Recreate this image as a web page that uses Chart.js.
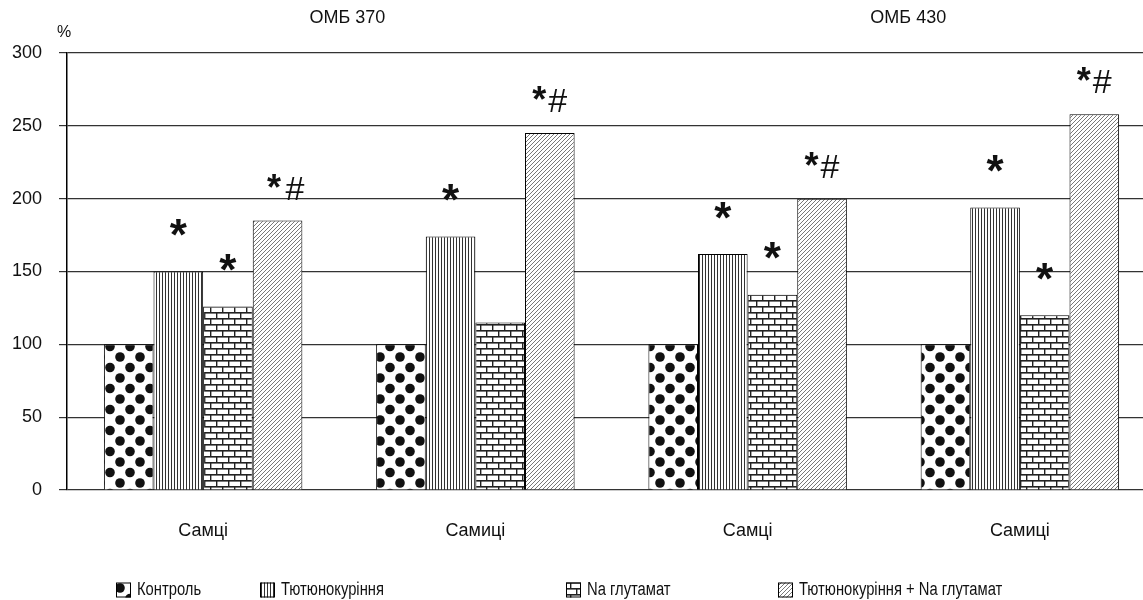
<!DOCTYPE html>
<html>
<head>
<meta charset="utf-8">
<script src="https://cdn.jsdelivr.net/npm/chart.js@4"></script>
<style>
  html, body { margin: 0; padding: 0; background: #fff; overflow: hidden; }
  #chart { display: block; }
</style>
</head>
<body>
<canvas id="chart" width="1158" height="600"></canvas>
<script>
const categories = ['Самці', 'Самиці', 'Самці', 'Самиці'];
const seriesNames = ['Контроль', 'Тютюнокуріння', 'Na глутамат', 'Тютюнокуріння + Na глутамат'];
const control = [100, 100, 100, 100];
const smoking = [150, 174, 162, 194];
const glutamate = [126, 115, 134, 120];
const combined = [185, 245, 200, 258];
const smokingMarks = ['*', '*', '*', '*'];
const glutamateMarks = ['*', '', '*', '*'];
const combinedMarks = ['*#', '*#', '*#', '*#'];
const groupTitles = ['ОМБ 370', 'ОМБ 430'];
const yMax = 300;
const yStep = 50;

const FONT = "'Liberation Sans', Arial, sans-serif";

// fill patterns
function makeTile(w, h, draw) {
  const c = document.createElement('canvas');
  c.width = w; c.height = h;
  const g = c.getContext('2d');
  g.fillStyle = '#fff';
  g.fillRect(0, 0, w, h);
  draw(g);
  return document.createElement('canvas').getContext('2d').createPattern(c, 'repeat');
}

const dots = makeTile(20, 21, g => {
  g.fillStyle = '#111';
  [[0, 0], [20, 0], [0, 21], [20, 21], [10, 10.5]].forEach(p => {
    g.beginPath();
    g.arc(p[0], p[1], 4.8, 0, Math.PI * 2);
    g.fill();
  });
});

const stripes = makeTile(3, 3, g => {
  g.fillStyle = '#333';
  g.fillRect(0, 0, 1, 3);
});

const bricks = makeTile(12, 12, g => {
  g.fillStyle = '#222';
  g.fillRect(0, 0, 12, 1.6);
  g.fillRect(0, 6, 12, 1.6);
  g.fillRect(0, 0, 1.4, 6);
  g.fillRect(6, 6, 1.4, 6);
});

const hatch = makeTile(4, 4, g => {
  g.strokeStyle = '#555';
  g.lineWidth = 0.8;
  g.beginPath();
  g.moveTo(0, 4); g.lineTo(4, 0);
  g.moveTo(-1, 1); g.lineTo(1, -1);
  g.moveTo(3, 5); g.lineTo(5, 3);
  g.stroke();
});

const fills = [dots, stripes, bricks, hatch];
const marks = [null, smokingMarks, glutamateMarks, combinedMarks];

function centerY(ctx, ch, cy) {
  const t = ctx.measureText(ch);
  return cy + (t.actualBoundingBoxAscent - t.actualBoundingBoxDescent) / 2;
}

const extras = {
  id: 'extras',
  afterDatasetsDraw(chart) {
    const ctx = chart.ctx;
    const area = chart.chartArea;
    const xs = chart.scales.x;
    ctx.save();
    ctx.fillStyle = '#111';
    ctx.textBaseline = 'alphabetic';

    // significance marks above bars
    marks.forEach((list, di) => {
      if (!list) return;
      const meta = chart.getDatasetMeta(di);
      meta.data.forEach((bar, i) => {
        const m = list[i];
        if (!m) return;
        if (m === '*') {
          ctx.font = 'bold 44px ' + FONT;
          ctx.textAlign = 'center';
          ctx.fillText('*', bar.x, centerY(ctx, '*', bar.y - 44));
        } else {
          ctx.font = 'bold 36px ' + FONT;
          const ts = ctx.measureText('*');
          const sw = ts.actualBoundingBoxRight + ts.actualBoundingBoxLeft;
          const sy = centerY(ctx, '*', bar.y - 40);
          ctx.font = '34px ' + FONT;
          const th = ctx.measureText('#');
          const hw = th.actualBoundingBoxRight + th.actualBoundingBoxLeft;
          const gap = 2;
          const x0 = bar.x - (sw + gap + hw) / 2;
          ctx.textAlign = 'left';
          ctx.font = 'bold 36px ' + FONT;
          ctx.fillText('*', x0 + ts.actualBoundingBoxLeft, sy);
          ctx.font = '34px ' + FONT;
          ctx.fillText('#', x0 + sw + gap + th.actualBoundingBoxLeft, bar.y - 21);
        }
      });
    });

    // group titles
    ctx.font = '18px ' + FONT;
    ctx.textAlign = 'center';
    ctx.textBaseline = 'middle';
    ctx.fillText(groupTitles[0], xs.getPixelForValue(0.53), 18);
    ctx.fillText(groupTitles[1], xs.getPixelForValue(2.59), 18);

    // unit label
    ctx.font = '16px ' + FONT;
    ctx.fillText('%', area.left - 3, area.top - 20);

    // legend (narrow text)
    const lx = [116, 260, 566, 778];
    const ly = 590;
    seriesNames.forEach((name, i) => {
      ctx.fillStyle = fills[i];
      ctx.fillRect(lx[i], ly - 7.5, 15, 15);
      ctx.strokeStyle = '#000';
      ctx.lineWidth = 1;
      ctx.strokeRect(lx[i] + 0.5, ly - 7, 14, 14);
      ctx.save();
      ctx.translate(lx[i] + 21, ly);
      ctx.scale(0.82, 1);
      ctx.fillStyle = '#111';
      ctx.font = '18px ' + FONT;
      ctx.textAlign = 'left';
      ctx.textBaseline = 'middle';
      ctx.fillText(name, 0, 0);
      ctx.restore();
    });
    ctx.restore();
  }
};

const seriesData = [control, smoking, glutamate, combined];

new Chart(document.getElementById('chart'), {
  type: 'bar',
  data: {
    labels: categories,
    datasets: seriesData.map((d, i) => ({
      label: seriesNames[i],
      data: d,
      backgroundColor: fills[i],
      borderColor: '#000',
      borderWidth: 1,
      borderSkipped: 'bottom',
      categoryPercentage: 0.729,
      barPercentage: 1.0
    }))
  },
  options: {
    responsive: false,
    animation: false,
    layout: {
      padding: { top: 53, bottom: 50, left: 0, right: 2 }
    },
    plugins: {
      legend: { display: false },
      tooltip: { enabled: false }
    },
    scales: {
      x: {
        grid: { display: false, drawTicks: false },
        border: { display: false },
        ticks: {
          color: '#111',
          padding: 30,
          font: { family: FONT, size: 18 }
        },
        afterFit: s => { s.height = 60; }
      },
      y: {
        min: 0,
        max: yMax,
        ticks: {
          stepSize: yStep,
          color: '#111',
          padding: 17,
          font: { family: FONT, size: 18 }
        },
        grid: {
          color: '#333',
          lineWidth: 1.2,
          tickLength: 8
        },
        border: { color: '#000', width: 1.5 },
        afterFit: s => { s.width = 67; }
      }
    }
  },
  plugins: [extras]
});
</script>
</body>
</html>
